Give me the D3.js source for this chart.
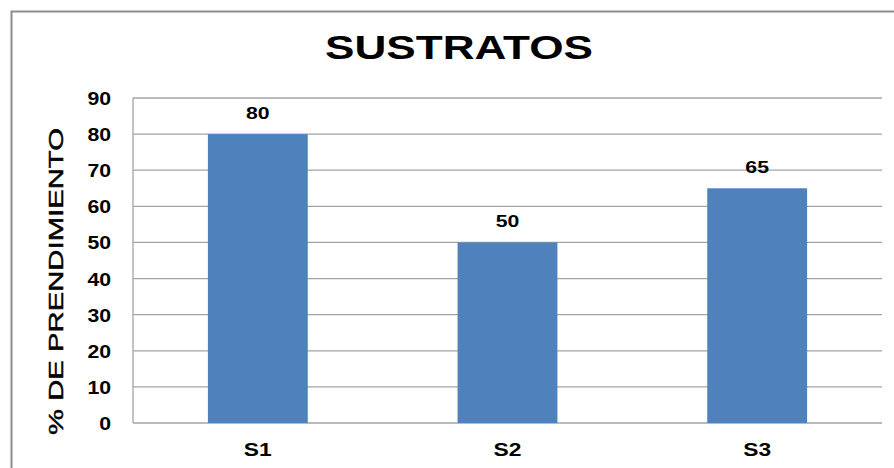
<!DOCTYPE html>
<meta charset="utf-8">
<script src="https://d3js.org/d3.v7.min.js"></script>
<style>
  body { margin: 0; background: #fff; }
  text { font-family: "Liberation Sans", Arial, sans-serif; }
</style>
<div id="my_dataviz"></div>
<script>

    // data
    var categories = ["S1", "S2", "S3"];
    var values = [80, 50, 65];
    var yTicks = [0, 10, 20, 30, 40, 50, 60, 70, 80, 90];

    var W = 894, H = 468;
    var margin = {top: 98, right: 12, bottom: 45, left: 133},
        width = 882 - margin.left,
        height = 423 - margin.top;

    var root = d3.select("#my_dataviz")
      .append("svg")
        .attr("width", W)
        .attr("height", H);

    // outer frame (only top and left edges are visible)
    root.append("rect")
      .attr("x", 11.5).attr("y", 11.5)
      .attr("width", W + 20).attr("height", H + 20)
      .attr("fill", "none")
      .attr("stroke", "#8c8c8c")
      .attr("stroke-width", 2);

    // title
    root.append("text")
      .attr("x", 459).attr("y", 59)
      .attr("text-anchor", "middle")
      .attr("font-size", 33)
      .attr("font-weight", "bold")
      .attr("textLength", 268)
      .attr("lengthAdjust", "spacingAndGlyphs")
      .text("SUSTRATOS");

    // y label
    root.append("text")
      .attr("transform", "translate(63,281.5) rotate(-90)")
      .attr("text-anchor", "middle")
      .attr("font-size", 21)
      .attr("stroke", "#000")
      .attr("stroke-width", 0.45)
      .attr("textLength", 307)
      .attr("lengthAdjust", "spacingAndGlyphs")
      .text("% DE PRENDIMIENTO");

    var svg = root.append("g")
      .attr("transform", "translate(" + margin.left + "," + margin.top + ")");

    var x = d3.scaleBand()
      .domain(categories)
      .range([0, width])
      .paddingInner(0.6)
      .paddingOuter(0.3);

    var y = d3.scaleLinear()
      .domain([0, 90])
      .range([height, 0]);

    // gridlines
    svg.append("g")
      .selectAll("line")
      .data(yTicks)
      .enter()
      .append("line")
        .attr("x1", 0).attr("x2", width)
        .attr("y1", function (d) { return y(d); })
        .attr("y2", function (d) { return y(d); })
        .attr("stroke", "#a3a3a3")
        .attr("stroke-width", 1.3);

    // left axis line
    svg.append("line")
      .attr("x1", 0).attr("x2", 0)
      .attr("y1", 0).attr("y2", height)
      .attr("stroke", "#a3a3a3")
      .attr("stroke-width", 1.3);

    // y tick labels
    var yAxis = svg.append("g")
      .call(d3.axisLeft(y).tickValues(yTicks).tickSize(0).tickPadding(22));
    yAxis.select(".domain").remove();
    yAxis.selectAll("text")
      .attr("font-size", 18)
      .attr("font-weight", "bold")
      .attr("fill", "#000")
      .attr("font-family", "Liberation Sans, Arial, sans-serif")
      .attr("dy", "0.36em")
      .each(function () {
        var len = this.getComputedTextLength();
        d3.select(this).attr("textLength", len * 1.18).attr("lengthAdjust", "spacingAndGlyphs");
      });

    // bars
    svg.append("g")
      .selectAll("rect")
      .data(values)
      .enter()
      .append("rect")
        .attr("x", function (d, i) { return x(categories[i]); })
        .attr("y", function (d) { return y(d); })
        .attr("width", x.bandwidth())
        .attr("height", function (d) { return height - y(d); })
        .attr("fill", "#4f81bd");

    // value labels
    svg.append("g")
      .selectAll("text")
      .data(values)
      .enter()
      .append("text")
        .attr("x", function (d, i) { return x(categories[i]) + x.bandwidth() / 2; })
        .attr("y", function (d) { return y(d) - 15.5; })
        .attr("text-anchor", "middle")
        .attr("font-size", 17)
        .attr("font-weight", "bold")
        .text(function (d) { return d; })
        .each(function () {
          var len = this.getComputedTextLength();
          d3.select(this).attr("textLength", len * 1.25).attr("lengthAdjust", "spacingAndGlyphs");
        });

    // x labels
    svg.append("g")
      .selectAll("text")
      .data(categories)
      .enter()
      .append("text")
        .attr("x", function (d) { return x(d) + x.bandwidth() / 2; })
        .attr("y", height + 33)
        .attr("text-anchor", "middle")
        .attr("font-size", 19)
        .attr("font-weight", "bold")
        .text(function (d) { return d; })
        .each(function () {
          var len = this.getComputedTextLength();
          d3.select(this).attr("textLength", len * 1.2).attr("lengthAdjust", "spacingAndGlyphs");
        });

</script>
